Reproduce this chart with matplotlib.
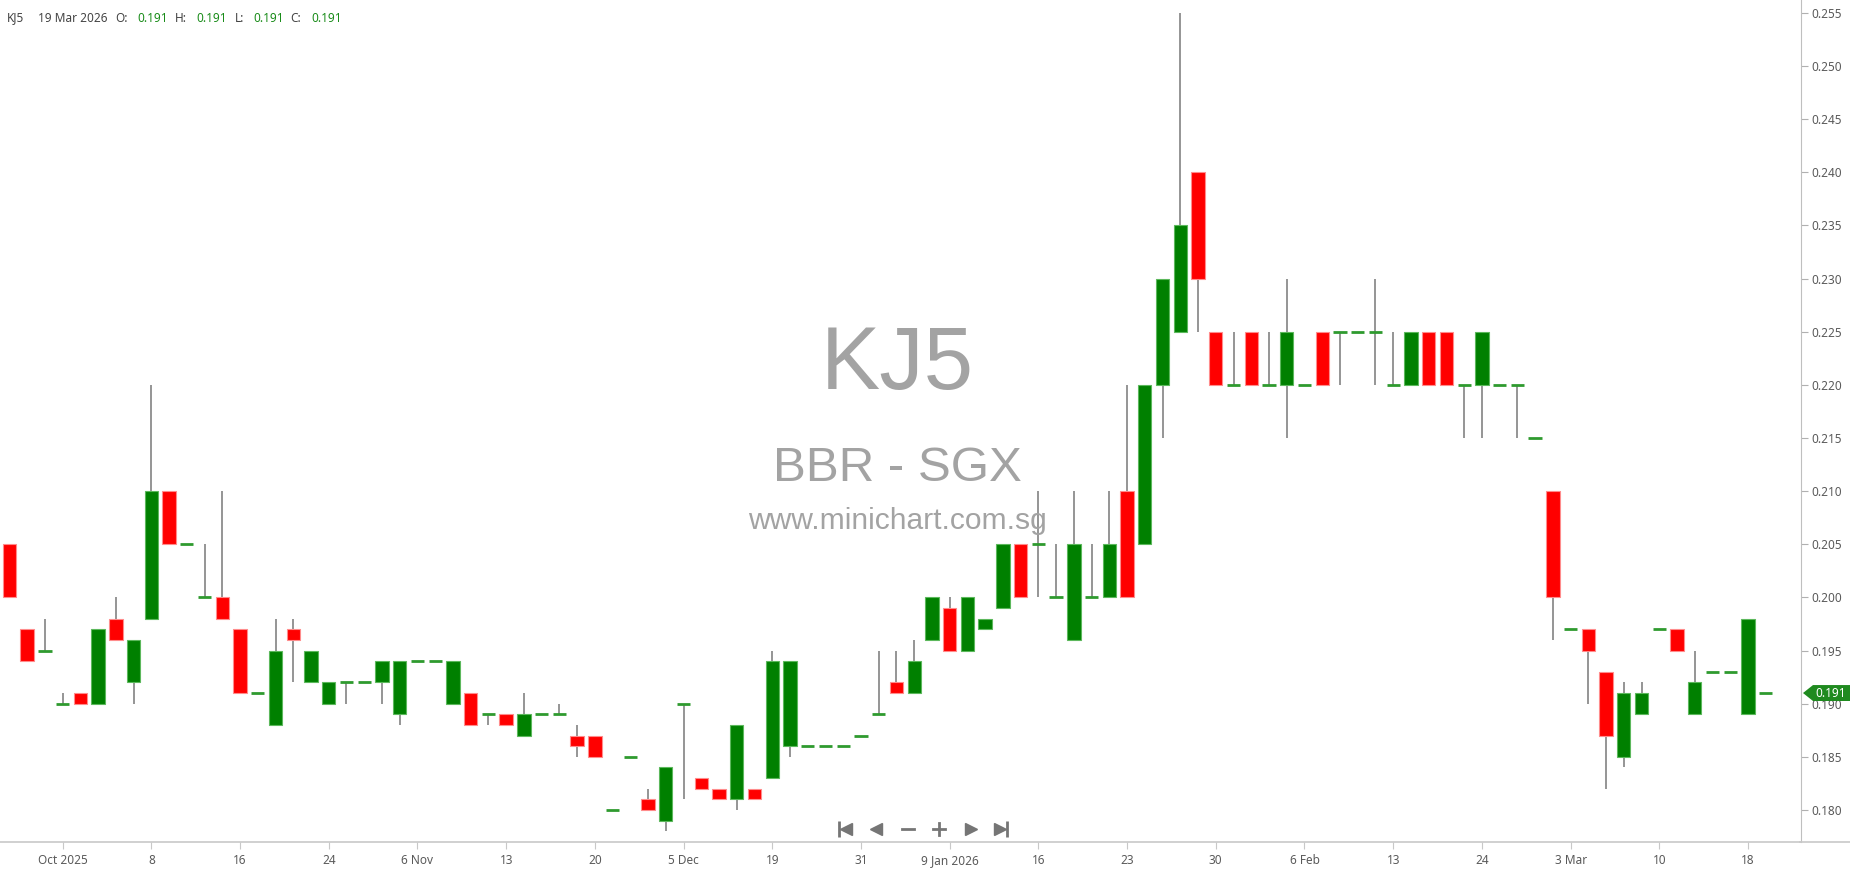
import numpy as np
import matplotlib.pyplot as plt
from matplotlib.lines import Line2D
from matplotlib.patches import Polygon
import matplotlib.transforms as mtransforms

plt.rcParams['font.family'] = ['Noto Sans', 'DejaVu Sans']

# daily OHLC, KJ5 (one candle per traded day)
opens = [0.205, 0.197, 0.195, 0.190, 0.191, 0.190, 0.198, 0.192, 0.198, 0.210,
         0.205, 0.200, 0.200, 0.197, 0.191, 0.188, 0.197, 0.192, 0.190, 0.192,
         0.192, 0.192, 0.189, 0.194, 0.194, 0.190, 0.191, 0.189, 0.189, 0.187,
         0.189, 0.189, 0.187, 0.187, 0.180, 0.185, 0.181, 0.179, 0.190, 0.183,
         0.182, 0.181, 0.182, 0.183, 0.186, 0.186, 0.186, 0.186, 0.187, 0.189,
         0.192, 0.191, 0.196, 0.199, 0.195, 0.197, 0.199, 0.205, 0.205, 0.200,
         0.196, 0.200, 0.200, 0.210, 0.205, 0.220, 0.225, 0.240, 0.225, 0.220,
         0.225, 0.220, 0.220, 0.220, 0.225, 0.225, 0.225, 0.225, 0.220, 0.220,
         0.225, 0.225, 0.220, 0.220, 0.220, 0.220, 0.215, 0.210, 0.197, 0.197,
         0.193, 0.185, 0.189, 0.197, 0.197, 0.189, 0.193, 0.193, 0.189, 0.191]
highs = [0.205, 0.197, 0.198, 0.191, 0.191, 0.197, 0.200, 0.196, 0.220, 0.210,
         0.205, 0.205, 0.210, 0.197, 0.191, 0.198, 0.198, 0.195, 0.192, 0.192,
         0.192, 0.194, 0.194, 0.194, 0.194, 0.194, 0.191, 0.189, 0.189, 0.191,
         0.189, 0.190, 0.188, 0.187, 0.180, 0.185, 0.182, 0.184, 0.190, 0.183,
         0.182, 0.188, 0.182, 0.195, 0.194, 0.186, 0.186, 0.186, 0.187, 0.195,
         0.195, 0.196, 0.200, 0.200, 0.200, 0.198, 0.205, 0.205, 0.210, 0.205,
         0.210, 0.205, 0.210, 0.220, 0.220, 0.230, 0.255, 0.240, 0.225, 0.225,
         0.225, 0.225, 0.230, 0.220, 0.225, 0.225, 0.225, 0.230, 0.225, 0.225,
         0.225, 0.225, 0.220, 0.225, 0.220, 0.220, 0.215, 0.210, 0.197, 0.197,
         0.193, 0.192, 0.192, 0.197, 0.197, 0.195, 0.193, 0.193, 0.198, 0.191]
lows = [0.200, 0.194, 0.195, 0.190, 0.190, 0.190, 0.196, 0.190, 0.198, 0.205,
        0.205, 0.200, 0.198, 0.191, 0.191, 0.188, 0.192, 0.192, 0.190, 0.190,
        0.192, 0.190, 0.188, 0.194, 0.194, 0.190, 0.188, 0.188, 0.188, 0.187,
        0.189, 0.189, 0.185, 0.185, 0.180, 0.185, 0.180, 0.178, 0.181, 0.182,
        0.181, 0.180, 0.181, 0.183, 0.185, 0.186, 0.186, 0.186, 0.187, 0.189,
        0.191, 0.191, 0.196, 0.195, 0.195, 0.197, 0.199, 0.200, 0.200, 0.200,
        0.196, 0.200, 0.200, 0.200, 0.205, 0.215, 0.225, 0.225, 0.220, 0.220,
        0.220, 0.220, 0.215, 0.220, 0.220, 0.220, 0.225, 0.220, 0.220, 0.220,
        0.220, 0.220, 0.215, 0.215, 0.220, 0.215, 0.215, 0.196, 0.197, 0.190,
        0.182, 0.184, 0.189, 0.197, 0.195, 0.189, 0.193, 0.193, 0.189, 0.191]
closes = [0.200, 0.194, 0.195, 0.190, 0.190, 0.197, 0.196, 0.196, 0.210, 0.205,
          0.205, 0.200, 0.198, 0.191, 0.191, 0.195, 0.196, 0.195, 0.192, 0.192,
          0.192, 0.194, 0.194, 0.194, 0.194, 0.194, 0.188, 0.189, 0.188, 0.189,
          0.189, 0.189, 0.186, 0.185, 0.180, 0.185, 0.180, 0.184, 0.190, 0.182,
          0.181, 0.188, 0.181, 0.194, 0.194, 0.186, 0.186, 0.186, 0.187, 0.189,
          0.191, 0.194, 0.200, 0.195, 0.200, 0.198, 0.205, 0.200, 0.205, 0.200,
          0.205, 0.200, 0.205, 0.200, 0.220, 0.230, 0.235, 0.230, 0.220, 0.220,
          0.220, 0.220, 0.225, 0.220, 0.220, 0.225, 0.225, 0.225, 0.220, 0.225,
          0.220, 0.220, 0.220, 0.225, 0.220, 0.220, 0.215, 0.200, 0.197, 0.195,
          0.187, 0.191, 0.191, 0.197, 0.195, 0.192, 0.193, 0.193, 0.198, 0.191]

date_labels = ["Oct 2025", "8", "16", "24", "6 Nov", "13", "20", "5 Dec", "19", "31",
               "9 Jan 2026", "16", "23", "30", "6 Feb", "13", "24", "3 Mar", "10", "18"]
price_ticks = np.arange(0.180, 0.2551, 0.005)

o = np.array(opens)
h = np.array(highs)
l = np.array(lows)
c = np.array(closes)
x = np.arange(len(o))

UP = "#008000"
DOWN = "#ff0000"

fig = plt.figure(figsize=(18.5, 8.74), dpi=100)
ax = fig.add_axes([0, 32 / 874, 1800.7 / 1850, 842 / 874])

# wicks
ax.vlines(x, l, h, color="#8c8c8c", lw=1.3, zorder=1)

# bodies
flat = o == c
up = (c > o)
dn = (c < o)
ax.bar(x[up], (c - o)[up], bottom=o[up], width=0.75, color=UP,
       edgecolor="#5cb85c", linewidth=0.8, zorder=2)
ax.bar(x[dn], (o - c)[dn], bottom=c[dn], width=0.75, color=DOWN,
       edgecolor="#ff8c8c", linewidth=0.8, zorder=2)
# no change days are a flat green dash
ax.hlines(o[flat], x[flat] - 0.375, x[flat] + 0.375, color="#2f9a2f", lw=2, zorder=2)

ax.set_xlim(-0.53, 100.97)
ax.set_ylim(0.17698, 0.25622)

# axes look
for s in ["top", "left"]:
    ax.spines[s].set_visible(False)
ax.spines["right"].set_color("#bfbfbf")
ax.spines["bottom"].set_color("#c8c8c8")
ax.spines["bottom"].set_linewidth(1.2)
fig.add_artist(Line2D([1800 / 1850, 1], [32 / 874, 32 / 874], color="#c8c8c8", lw=1.2))

ax.yaxis.tick_right()
ax.set_yticks(price_ticks)
ax.set_yticklabels(["%.3f" % v for v in price_ticks])
ax.tick_params(axis="y", length=5, color="#b0b0b0", labelcolor="#5a5a5a",
               labelsize=8.5, pad=3)

tick_pos = np.arange(3, len(o), 5)
ax.set_xticks(tick_pos)
ax.set_xticklabels(date_labels)
ax.tick_params(axis="x", length=5, color="#c8c8c8", labelcolor="#5a5a5a",
               labelsize=8.5, pad=4)

# watermark
def fy(px):
    return 1 - px / 874

wm = "#a3a3a3"
fig.text(897 / 1850, fy(389), "KJ5", fontsize=64, color=wm, ha="center",
         va="baseline", family="Liberation Sans")
fig.text(897 / 1850, fy(481), "BBR - SGX", fontsize=35.5, color=wm, ha="center",
         va="baseline", family="Liberation Sans")
fig.text(897 / 1850, fy(529), "www.minichart.com.sg", fontsize=21.6, color=wm,
         ha="center", va="baseline", family="Liberation Sans")

# header line
hdr_grey = "#444444"
hdr_green = "#1a8c1a"
pieces = [(7, "KJ5", hdr_grey), (38, "19 Mar 2026", hdr_grey), (115, "O:", hdr_grey),
          (137, "%.3f" % opens[-1], hdr_green), (175, "H:", hdr_grey),
          (196, "%.3f" % highs[-1], hdr_green), (235, "L:", hdr_grey),
          (253, "%.3f" % lows[-1], hdr_green), (290, "C:", hdr_grey),
          (311, "%.3f" % closes[-1], hdr_green)]
for px, txt, col in pieces:
    fig.text(px / 1850, fy(18), txt, fontsize=8.5, color=col, ha="left", va="center")

# navigation buttons at the bottom
nav = "#757575"
ny = fy(829)
fig.add_artist(Line2D([839 / 1850], [ny], marker="|", ms=11, mew=2, color=nav))
fig.add_artist(Line2D([846 / 1850], [ny], marker="<", ms=9, color=nav, mec=nav))
fig.add_artist(Line2D([876 / 1850], [ny], marker="<", ms=9, color=nav, mec=nav))
fig.add_artist(Line2D([902 / 1850, 914 / 1850], [ny, ny], lw=2, color=nav))
fig.add_artist(Line2D([933 / 1850, 945 / 1850], [ny, ny], lw=2, color=nav))
fig.add_artist(Line2D([939 / 1850, 939 / 1850], [ny - 6 / 874, ny + 6 / 874], lw=2, color=nav))
fig.add_artist(Line2D([971 / 1850], [ny], marker=">", ms=9, color=nav, mec=nav))
fig.add_artist(Line2D([1000 / 1850], [ny], marker=">", ms=9, color=nav, mec=nav))
fig.add_artist(Line2D([1007 / 1850], [ny], marker="|", ms=11, mew=2, color=nav))

# last price tag on the price axis
last = closes[-1]
tr = mtransforms.blended_transform_factory(fig.transFigure, ax.transData)
hh = 8 * 0.005 / 53.3
tag = Polygon([(1803 / 1850, last), (1813 / 1850, last + hh), (1850 / 1850, last + hh),
               (1850 / 1850, last - hh), (1813 / 1850, last - hh)],
              closed=True, transform=tr, facecolor="#1f8a1f", edgecolor="none",
              clip_on=False, zorder=5)
ax.add_artist(tag)
ax.text(1815 / 1850, last, "%.3f" % last, transform=tr, color="white", fontsize=8.5,
        fontweight="bold", va="center", ha="left", clip_on=False, zorder=6)

fig.savefig("out.png", dpi=100, facecolor="white")
